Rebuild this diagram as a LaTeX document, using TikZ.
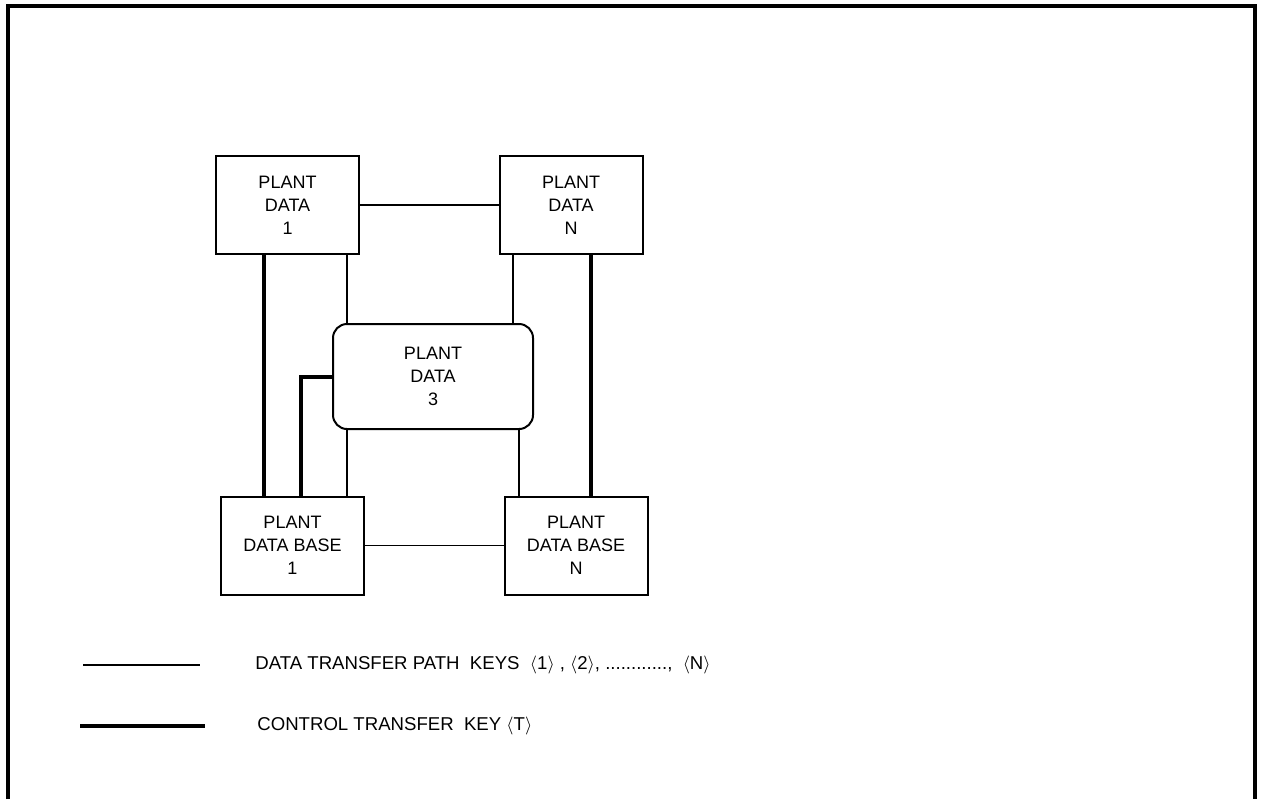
\documentclass[tikz,border=0pt]{standalone}
\usepackage{fontspec}
\setmainfont{Liberation Sans}
\usetikzlibrary{positioning}
\tikzset{
  box/.style={draw, line width=1pt, align=center, inner sep=0pt,
    font=\fontsize{9}{11.5}\selectfont, minimum width=71.5pt, minimum height=49pt},
  hub/.style={box, rounded corners=7pt, minimum width=100pt, minimum height=52.5pt},
  datalink/.style={line width=0.8pt},
  ctrllink/.style={line width=2pt},
  keytext/.style={anchor=west, inner sep=0pt, font=\fontsize{9.3}{11}\selectfont}
}

\begin{document}
\begin{tikzpicture}[x=0.5pt,y=-0.5pt]
\useasboundingbox (0,0) rectangle (1262,799);
% frame, open at the bottom
\draw[line width=2pt] (8,799) -- (8,6) -- (1255,6) -- (1255,799);

\node[box] (pd1) at (287.5,205) {PLANT\\DATA\\1};
\node[box] (pdn) at (571,205) {PLANT\\DATA\\N};
\node[hub] (pd3) at (433,376.5) {PLANT\\DATA\\3};
\node[box] (pdb1) at (292.5,545.5) {PLANT\\DATA BASE\\1};
\node[box] (pdbn) at (576,545.5) {PLANT\\DATA BASE\\N};

% columns of the vertical links
\coordinate (c1) at (264,0);
\coordinate (c2) at (347,0);
\coordinate (c3) at (301,0);
\coordinate (c4) at (513,0);
\coordinate (c5) at (519,0);
\coordinate (c6) at (591,0);

\draw[datalink] (pd1.east) -- (pdn.west);
\draw[datalink] (pdb1.east) -- (pdbn.west);
\draw[datalink] (pd1.south -| c2) -- (pd3.north -| c2);
\draw[datalink] (pdn.south -| c4) -- (pd3.north -| c4);
\draw[datalink] (pd3.south -| c2) -- (pdb1.north -| c2);
\draw[datalink] (pd3.south -| c5) -- (pdbn.north -| c5);

\draw[ctrllink] (pd1.south -| c1) -- (pdb1.north -| c1);
\draw[ctrllink] (pdn.south -| c6) -- (pdbn.north -| c6);
\draw[ctrllink] (pd3.west) -| (pdb1.north -| c3);

% key
\coordinate (k1a) at (83,665);
\coordinate (k1b) at (200,665);
\coordinate (k2a) at (80,726);
\coordinate (k2b) at (205,726);
\draw[datalink] (k1a) -- (k1b);
\draw[ctrllink] (k2a) -- (k2b);
\node[keytext] (key1) at (255,665)
  {DATA TRANSFER PATH\ \ KEYS\ \ $\langle$1$\rangle$ , $\langle$2$\rangle$, ............, \ $\langle$N$\rangle$};
\node[keytext] (key2) at (257,726)
  {CONTROL TRANSFER\ \ KEY $\langle$T$\rangle$};
\end{tikzpicture}
\end{document}
